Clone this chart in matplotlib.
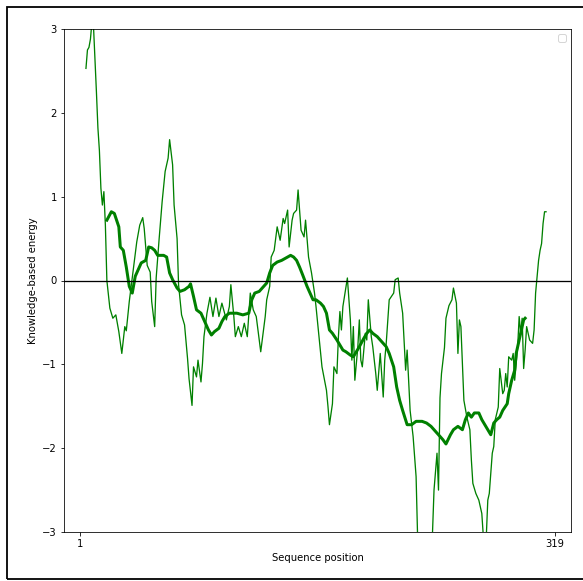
import matplotlib
matplotlib.use('Agg')
import matplotlib.pyplot as plt
from matplotlib.patches import Rectangle

# window 10 (thin line)
thin_pos = [5, 6, 7, 8, 9, 10, 12, 13, 14, 15, 16, 17, 18, 19, 21, 23, 25, 27, 29, 31,
            32, 34, 36, 39, 41, 43, 44, 46, 48, 49, 51, 52, 54, 56, 58, 60, 61, 63, 64, 66,
            67, 69, 71, 73, 74, 76, 77, 79, 80, 82, 83, 84, 86, 88, 90, 92, 94, 96, 99, 101,
            102, 104, 105, 107, 109, 111, 113, 115, 117, 119, 122, 125, 126, 128, 129, 131, 133, 135, 137, 138,
            140, 141, 143, 144, 146, 147, 149, 151, 152, 154, 156, 158, 159, 161, 163, 166, 167, 168, 170, 171,
            173, 174, 175, 176, 177, 180, 182, 183, 184, 185, 187, 188, 189, 190, 192, 193, 194, 196, 197, 199,
            200, 202, 204, 205, 206, 208, 211, 212, 214, 215, 217, 219, 220, 222, 224, 226, 227, 231, 234, 237,
            238, 240, 241, 242, 243, 245, 246, 248, 250, 251, 253, 254, 255, 256, 258, 260, 262, 263, 264, 266,
            268, 270, 271, 273, 274, 275, 277, 278, 279, 281, 282, 284, 285, 286, 287, 288, 290, 291, 292, 294,
            295, 296, 297, 298, 299, 300, 302, 304, 305, 306, 307, 308, 309, 310, 311, 312, 313]
thin_energy = [2.53, 2.75, 2.78, 2.88, 3.08, 3.05, 2.25, 1.82, 1.55, 1.10, 0.90, 1.06, 0.66, 0.0, -0.33, -0.45, -0.41, -0.61, -0.87, -0.55,
               -0.60, -0.25, 0.03, 0.46, 0.66, 0.75, 0.62, 0.18, 0.10, -0.25, -0.55, 0.03, 0.50, 0.94, 1.30, 1.46, 1.68, 1.38, 0.90, 0.50,
               -0.05, -0.41, -0.53, -0.93, -1.17, -1.49, -1.03, -1.15, -0.95, -1.21, -0.99, -0.67, -0.39, -0.20, -0.43, -0.21, -0.43, -0.27, -0.47, -0.31,
               -0.05, -0.43, -0.67, -0.55, -0.67, -0.51, -0.67, -0.15, -0.35, -0.43, -0.85, -0.43, -0.23, -0.07, 0.28, 0.36, 0.64, 0.48, 0.74, 0.68,
               0.84, 0.40, 0.72, 0.80, 0.84, 1.08, 0.60, 0.52, 0.72, 0.28, 0.09, -0.15, -0.31, -0.67, -1.03, -1.31, -1.50, -1.72, -1.47, -1.03,
               -1.11, -0.67, -0.37, -0.59, -0.31, 0.03, -0.47, -0.95, -0.55, -1.19, -0.79, -0.47, -0.95, -1.03, -0.63, -0.71, -0.23, -0.67, -0.79, -1.11,
               -1.31, -0.87, -1.39, -0.95, -0.75, -0.23, -0.15, 0.01, 0.03, -0.15, -0.39, -1.07, -0.83, -1.55, -1.86, -2.34, -3.05, -3.5, -3.4, -3.0,
               -2.50, -2.06, -2.50, -1.40, -1.11, -0.80, -0.45, -0.30, -0.23, -0.09, -0.27, -0.87, -0.47, -0.55, -1.43, -1.63, -1.78, -2.14, -2.42, -2.54,
               -2.62, -2.78, -3.05, -3.05, -2.62, -2.54, -2.06, -1.98, -1.66, -1.51, -1.05, -1.35, -1.31, -1.11, -1.27, -0.91, -0.95, -0.87, -1.19, -0.79,
               -0.43, -0.63, -0.45, -1.05, -0.83, -0.55, -0.71, -0.75, -0.59, -0.15, 0.05, 0.24, 0.36, 0.44, 0.68, 0.82, 0.82]

# window 40 (thick line)
thick_pos = [19, 22, 24, 27, 28, 30, 32, 34, 36, 38, 40, 42, 45, 47, 49, 51, 53, 57, 59, 61,
             63, 66, 68, 71, 74, 75, 77, 79, 82, 85, 87, 89, 91, 94, 96, 98, 101, 106, 110, 114,
             116, 118, 121, 124, 126, 128, 130, 133, 136, 138, 142, 144, 146, 148, 150, 153, 155, 157, 159, 162,
             164, 166, 168, 170, 173, 175, 177, 179, 182, 184, 186, 188, 191, 193, 195, 197, 200, 202, 204, 206,
             208, 211, 213, 215, 217, 220, 223, 226, 230, 233, 236, 239, 241, 244, 246, 249, 251, 254, 257, 259,
             261, 263, 265, 268, 270, 272, 274, 276, 278, 280, 282, 284, 287, 288, 290, 292, 293, 295, 297, 298, 299]
thick_energy = [0.72, 0.82, 0.80, 0.64, 0.40, 0.36, 0.16, -0.07, -0.15, 0.05, 0.13, 0.21, 0.24, 0.40, 0.39, 0.36, 0.30, 0.30, 0.28, 0.09,
                0.01, -0.09, -0.13, -0.11, -0.07, -0.04, -0.19, -0.35, -0.39, -0.51, -0.59, -0.65, -0.61, -0.57, -0.49, -0.43, -0.39, -0.39, -0.41, -0.39,
                -0.23, -0.15, -0.13, -0.07, -0.03, 0.09, 0.18, 0.22, 0.24, 0.26, 0.30, 0.28, 0.24, 0.16, 0.07, -0.07, -0.15, -0.23, -0.23, -0.27,
                -0.31, -0.39, -0.59, -0.63, -0.71, -0.77, -0.83, -0.85, -0.89, -0.91, -0.85, -0.79, -0.69, -0.63, -0.59, -0.63, -0.67, -0.71, -0.75, -0.79,
                -0.87, -1.03, -1.27, -1.43, -1.55, -1.72, -1.72, -1.68, -1.68, -1.70, -1.74, -1.80, -1.84, -1.90, -1.95, -1.84, -1.78, -1.74, -1.78, -1.66,
                -1.58, -1.63, -1.58, -1.58, -1.66, -1.72, -1.78, -1.84, -1.70, -1.66, -1.63, -1.55, -1.47, -1.35, -1.19, -1.07, -0.87, -0.71, -0.55, -0.47, -0.45]

n_res = 319

fig = plt.figure(figsize=(583 / 72, 581 / 72), dpi=72)
ax = fig.add_axes([64 / 583, 1 - 532 / 581, (571 - 64) / 583, (532 - 29) / 581])

ax.plot(thin_pos, thin_energy, color='green', linewidth=1.3)
ax.plot(thick_pos, thick_energy, color='green', linewidth=3)
ax.axhline(0, color='black', linewidth=1.3)

ax.set_xlim(-9.7, 329.7)
ax.set_ylim(-3, 3)
ax.set_xticks([1, n_res])
ax.set_yticks([-3, -2, -1, 0, 1, 2, 3])
ax.set_xlabel('Sequence position')
ax.set_ylabel('Knowledge-based energy')
ax.legend()

# screenshot frame
fig.patches.append(Rectangle((7 / 583, 2 / 581), 1.0, 1 - 9 / 581, transform=fig.transFigure,
                             fill=False, edgecolor='black', linewidth=1.8))

fig.savefig('out.png', dpi=72)
